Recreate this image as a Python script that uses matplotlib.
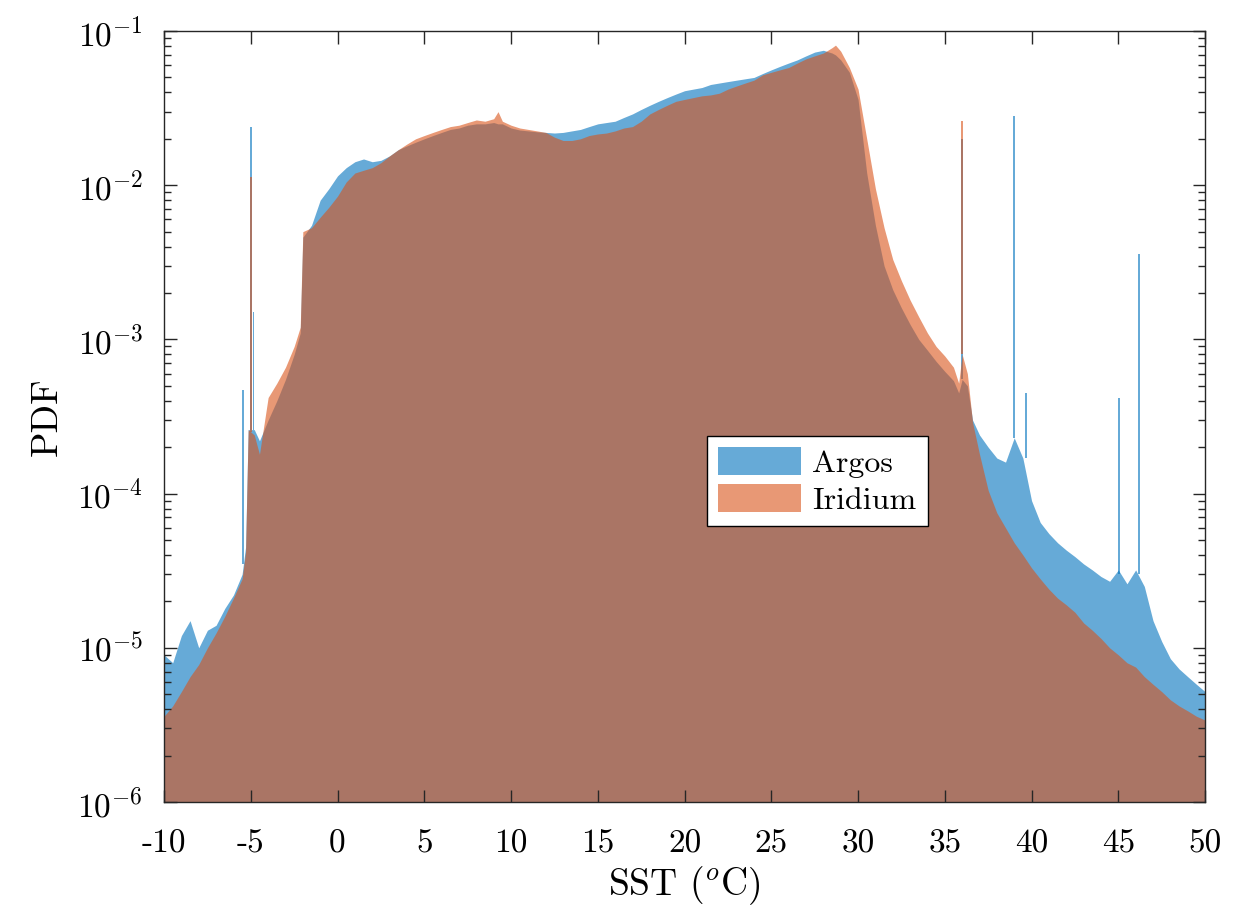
import numpy as np
import matplotlib
matplotlib.use("Agg")
import matplotlib.pyplot as plt
from matplotlib.ticker import LogLocator, NullFormatter, NullLocator

plt.rcParams['font.family'] = 'serif'
plt.rcParams['font.serif'] = ['cmr10', 'DejaVu Serif']
plt.rcParams['mathtext.fontset'] = 'cm'
plt.rcParams['axes.formatter.use_mathtext'] = True
plt.rcParams['axes.unicode_minus'] = False

# SST sample points (degC) and PDF of each transmission system
sst = [
    -10, -9.5, -9, -8.5, -8, -7.5, -7, -6.5, -6, -5.5,
    -5.3, -5.15, -4.8, -4.5, -4, -3.5, -3, -2.5, -2.15, -2.0, -1.5, -1, -0.5,
    0, 0.5, 1, 1.5, 2, 2.5, 3, 3.5, 4, 4.5,
    5, 5.5, 6, 6.5, 7, 7.5, 8, 8.5, 9, 9.25, 9.5,
    10, 10.5, 11, 11.5, 12, 12.5, 13, 13.5, 14, 14.5,
    15, 15.5, 16, 16.5, 17, 17.5, 18, 18.5, 19, 19.5,
    20, 20.5, 21, 21.5, 22, 22.5, 23, 23.5, 24, 24.5,
    25, 25.5, 26, 26.5, 27, 27.5, 28,
    28.5, 28.7, 29, 29.5, 30, 30.5, 31, 31.5, 32, 32.5, 33, 33.5, 34, 34.5,
    35, 35.5, 35.8, 36, 36.3, 36.6,
    37, 37.5, 38, 38.5, 39, 39.5, 40, 40.5, 41, 41.5, 42, 42.5, 43, 43.5,
    44, 44.5, 45, 45.5, 46, 46.5, 47, 47.5, 48, 48.5, 49, 49.5, 50,
]

argos_pdf = [
    9e-6, 8e-6, 1.2e-5, 1.5e-5, 1.0e-5, 1.3e-5, 1.4e-5, 1.8e-5, 2.2e-5, 3.0e-5,
    4.5e-5, 2.6e-4, 2.6e-4, 2.2e-4, 3.0e-4, 4.0e-4, 5.5e-4, 8.0e-4, 1.1e-3, 4.6e-3, 5.5e-3, 8.0e-3, 9.5e-3,
    0.0115, 0.013, 0.0142, 0.0148, 0.0142, 0.0145, 0.0155, 0.017, 0.018, 0.019,
    0.020, 0.021, 0.022, 0.023, 0.0235, 0.0245, 0.025, 0.025, 0.0255, 0.025, 0.025,
    0.0235, 0.0228, 0.0225, 0.0222, 0.022, 0.0218, 0.022, 0.0225, 0.023, 0.024,
    0.025, 0.0255, 0.026, 0.0275, 0.029, 0.031, 0.033, 0.035, 0.037, 0.039,
    0.041, 0.042, 0.043, 0.045, 0.046, 0.047, 0.048, 0.049, 0.050, 0.053,
    0.056, 0.059, 0.062, 0.065, 0.069, 0.073, 0.075,
    0.072, 0.070, 0.065, 0.054, 0.036, 0.012, 5.5e-3, 3.0e-3, 2.1e-3, 1.6e-3, 1.25e-3, 1.0e-3, 8.5e-4, 7.2e-4,
    6.2e-4, 5.4e-4, 4.5e-4, 5.5e-4, 5.0e-4, 3.0e-4,
    2.4e-4, 2.0e-4, 1.7e-4, 1.6e-4, 2.3e-4, 1.7e-4, 9e-5, 6.5e-5, 5.5e-5, 4.8e-5, 4.3e-5, 3.9e-5, 3.5e-5, 3.2e-5,
    2.9e-5, 2.7e-5, 3.2e-5, 2.6e-5, 3.2e-5, 2.5e-5, 1.5e-5, 1.1e-5, 8.5e-6, 7.3e-6, 6.5e-6, 5.8e-6, 5.2e-6,
]

iridium_pdf = [
    3.6e-6, 4.2e-6, 5.2e-6, 6.5e-6, 7.8e-6, 1.0e-5, 1.25e-5, 1.6e-5, 2.1e-5, 2.8e-5,
    4.2e-5, 2.6e-4, 2.4e-4, 1.8e-4, 4.2e-4, 5.2e-4, 6.6e-4, 9.0e-4, 1.2e-3, 5.0e-3, 5.3e-3, 6.2e-3, 7.2e-3,
    0.0085, 0.0105, 0.012, 0.0125, 0.013, 0.014, 0.0155, 0.017, 0.0185, 0.020,
    0.021, 0.022, 0.023, 0.024, 0.0245, 0.0255, 0.0265, 0.026, 0.027, 0.030, 0.026,
    0.0245, 0.0235, 0.023, 0.0225, 0.022, 0.0205, 0.0195, 0.0195, 0.020, 0.021,
    0.0215, 0.0218, 0.0225, 0.0235, 0.024, 0.026, 0.029, 0.031, 0.033, 0.035,
    0.036, 0.037, 0.038, 0.0385, 0.0395, 0.042, 0.044, 0.046, 0.048, 0.052,
    0.054, 0.056, 0.058, 0.062, 0.066, 0.069, 0.072,
    0.078, 0.081, 0.074, 0.058, 0.042, 0.020, 9.5e-3, 5.3e-3, 3.3e-3, 2.4e-3, 1.8e-3, 1.4e-3, 1.1e-3, 9e-4,
    7.8e-4, 6.6e-4, 5.2e-4, 8e-4, 6e-4, 2.9e-4,
    1.8e-4, 1.05e-4, 7.5e-5, 6e-5, 4.8e-5, 4.0e-5, 3.3e-5, 2.8e-5, 2.4e-5, 2.1e-5, 1.9e-5, 1.7e-5, 1.45e-5, 1.3e-5,
    1.15e-5, 1.0e-5, 9e-6, 8e-6, 7.5e-6, 6.5e-6, 5.8e-6, 5.2e-6, 4.6e-6, 4.2e-6, 3.9e-6, 3.6e-6, 3.4e-6,
]

# narrow single-bin peaks: position, level beneath, peak level
argos_peak_x = [-5.45, -5.0, -4.85, 36.0, 39.0, 39.7, 45.05, 46.2]
argos_peak_base = [3.5e-5, 2.6e-4, 2.6e-4, 5.5e-4, 2.3e-4, 1.7e-4, 3.0e-5, 3.0e-5]
argos_peak_top = [4.7e-4, 0.024, 1.5e-3, 0.020, 0.028, 4.5e-4, 4.2e-4, 3.6e-3]

iridium_peak_x = [-5.0, 36.0]
iridium_peak_base = [2.5e-4, 8e-4]
iridium_peak_top = [0.0113, 0.026]

xtick_values = [-10, -5, 0, 5, 10, 15, 20, 25, 30, 35, 40, 45, 50]
xtick_labels = [str(v) for v in xtick_values]

ARGOS_COLOR = '#0072BD'
IRIDIUM_COLOR = '#D95319'
FACE_ALPHA = 0.6
YMIN = 1e-6

fig = plt.figure(figsize=(12.55, 9.15), dpi=100)
ax = fig.add_axes([0.1307, 0.1235, 0.8295, 0.8426])

ax.fill_between(sst, YMIN, argos_pdf, color=ARGOS_COLOR, alpha=FACE_ALPHA,
                linewidth=0, label='Argos')
ax.bar(argos_peak_x, np.array(argos_peak_top) - np.array(argos_peak_base),
       bottom=argos_peak_base, width=0.1, color=ARGOS_COLOR, alpha=FACE_ALPHA,
       linewidth=0)

ax.fill_between(sst, YMIN, iridium_pdf, color=IRIDIUM_COLOR, alpha=FACE_ALPHA,
                linewidth=0, label='Iridium')
ax.bar(iridium_peak_x, np.array(iridium_peak_top) - np.array(iridium_peak_base),
       bottom=iridium_peak_base, width=0.1, color=IRIDIUM_COLOR, alpha=FACE_ALPHA,
       linewidth=0)

ax.set_yscale('log')
ax.set_xlim(-10, 50)
ax.set_ylim(YMIN, 1e-1)
ax.set_xticks(xtick_values)
ax.set_xticklabels(xtick_labels)
ax.xaxis.set_minor_locator(NullLocator())
ax.yaxis.set_major_locator(LogLocator(base=10, numticks=10))
ax.yaxis.set_minor_locator(LogLocator(base=10, subs=np.arange(2, 10), numticks=20))
ax.yaxis.set_minor_formatter(NullFormatter())

ax.tick_params(which='both', direction='in', top=True, right=True,
               width=1.0, color='#262626', labelsize=24)
ax.tick_params(axis='x', pad=20)
ax.tick_params(axis='y', pad=15)
ax.tick_params(which='major', length=9)
ax.tick_params(which='minor', length=5)
for spine in ax.spines.values():
    spine.set_linewidth(1.0)
    spine.set_color('#262626')

ax.set_xlabel('SST ($^o$C)', fontsize=27, labelpad=4)
ax.set_ylabel('PDF', fontsize=27, labelpad=10)

leg = ax.legend(loc='upper left', bbox_to_anchor=(0.5216, 0.4747),
                borderaxespad=0, fontsize=23, handlelength=2.6,
                handleheight=0.95, handletextpad=0.35, labelspacing=0.2,
                borderpad=0.35, fancybox=False, framealpha=1, edgecolor='black')
leg.get_frame().set_linewidth(1.0)

fig.savefig('out.png', dpi=100)
